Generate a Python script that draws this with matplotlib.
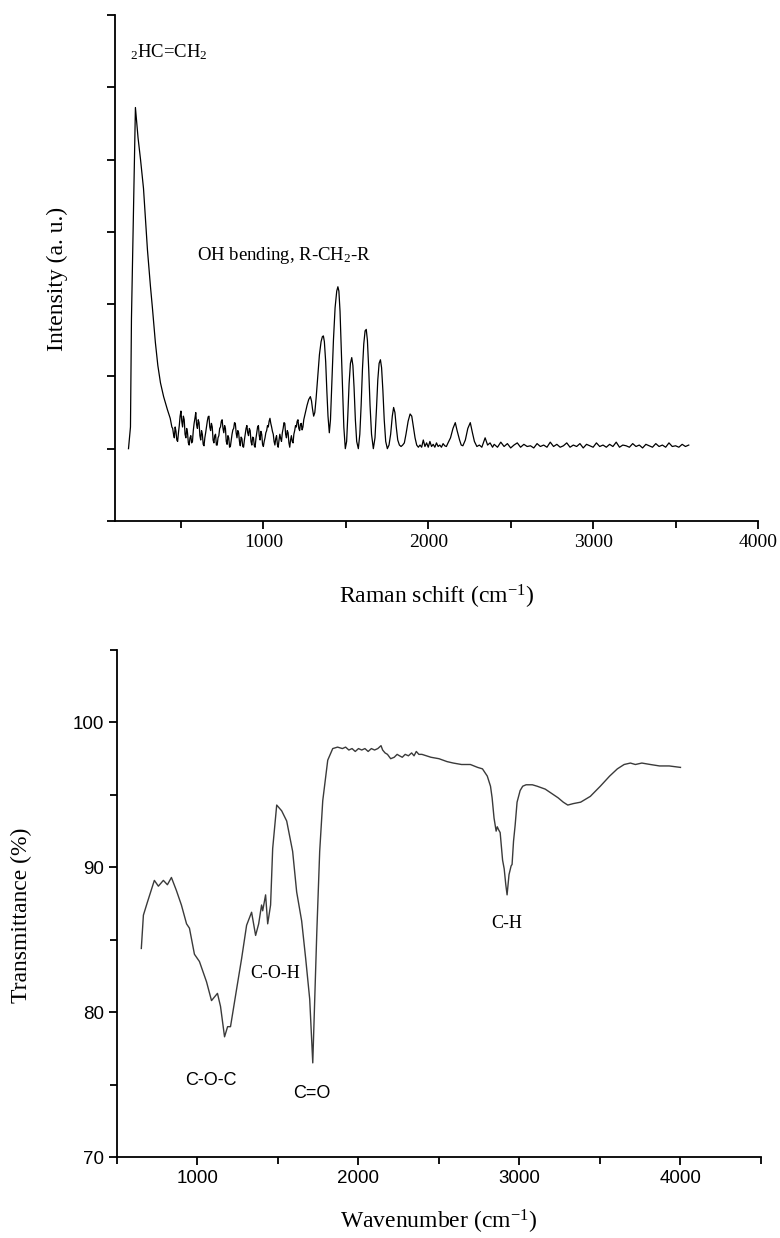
import numpy as np
import matplotlib
matplotlib.use("Agg")
import matplotlib.pyplot as plt
from matplotlib.ticker import MultipleLocator, NullFormatter

plt.rcParams['font.family'] = ['Liberation Serif', 'DejaVu Serif']
plt.rcParams['mathtext.fontset'] = 'stix'
plt.rcParams['mathtext.default'] = 'regular'

# ---- Raman spectrum (top panel) ----
# main band near 224 cm-1 and its tail
raman_peak_w = [182, 194, 200, 224, 240, 255, 273, 297, 315, 327, 345, 360, 376, 395, 418, 435, 445]
raman_peak_i = [0.0, 0.3, 1.8, 4.72, 4.3, 4.0, 3.6, 2.75, 2.25, 1.95, 1.47, 1.15, 0.91, 0.72, 0.54, 0.42, 0.3]

# noisy baseline 450-1250 cm-1 (5 cm-1 steps)
raman_noise1_start, raman_noise1_step = 450, 5
raman_noise1_i = [0.28, 0.20, 0.15, 0.30, 0.24, 0.12, 0.10, 0.22, 0.32, 0.45,
                  0.52, 0.38, 0.30, 0.45, 0.40, 0.20, 0.15, 0.28, 0.22, 0.08,
                  0.05, 0.15, 0.18, 0.08, 0.10, 0.25, 0.35, 0.42, 0.50, 0.33,
                  0.28, 0.40, 0.36, 0.18, 0.12, 0.25, 0.20, 0.06, 0.04, 0.15,
                  0.22, 0.30, 0.38, 0.44, 0.45, 0.30, 0.25, 0.35, 0.30, 0.12,
                  0.08, 0.18, 0.20, 0.05, 0.05, 0.15, 0.18, 0.28, 0.30, 0.38,
                  0.40, 0.28, 0.22, 0.32, 0.28, 0.10, 0.06, 0.18, 0.15, 0.02,
                  0.03, 0.12, 0.20, 0.26, 0.28, 0.36, 0.35, 0.22, 0.15, 0.25,
                  0.22, 0.10, 0.04, 0.16, 0.14, 0.03, 0.02, 0.12, 0.20, 0.28,
                  0.32, 0.22, 0.18, 0.28, 0.25, 0.10, 0.05, 0.16, 0.15, 0.04,
                  0.02, 0.14, 0.22, 0.30, 0.32, 0.18, 0.12, 0.24, 0.20, 0.06,
                  0.03, 0.10, 0.15, 0.22, 0.25, 0.32, 0.30, 0.38, 0.42, 0.35,
                  0.30, 0.24, 0.20, 0.10, 0.05, 0.14, 0.18, 0.06, 0.02, 0.12,
                  0.20, 0.14, 0.10, 0.22, 0.28, 0.36, 0.35, 0.20, 0.15, 0.25,
                  0.22, 0.08, 0.02, 0.12, 0.18, 0.10, 0.08, 0.20, 0.25, 0.32,
                  0.30, 0.38, 0.40, 0.28, 0.25, 0.34, 0.35, 0.26, 0.30, 0.40,
                  0.45]

# OH bending / CH2 band series
raman_band_w = [1255, 1265, 1275, 1285, 1292, 1298, 1305, 1312, 1320, 1330, 1340, 1350, 1358,
                1364, 1370, 1378, 1385, 1392, 1400, 1407, 1415, 1425, 1435, 1445, 1452,
                1458, 1465, 1472, 1480, 1488, 1497, 1505, 1512, 1520, 1528, 1536, 1543,
                1550, 1558, 1566, 1576, 1585, 1593, 1601, 1609, 1617, 1624, 1631, 1639,
                1647, 1656, 1667, 1677, 1686, 1694, 1702, 1710, 1717, 1725, 1733, 1742,
                1752, 1762, 1772, 1782, 1790, 1798, 1806, 1815, 1825, 1835, 1845, 1855,
                1865, 1878, 1890, 1900, 1910, 1920, 1930, 1940,
                1950, 1960, 1970, 1980, 1990, 2000, 2010, 2020, 2030, 2040, 2050, 2060,
                2070, 2080, 2090, 2100, 2110, 2120, 2135, 2150, 2164, 2175, 2190, 2200,
                2210, 2225, 2240, 2255, 2268, 2280, 2295, 2310, 2325, 2345, 2360, 2375, 2390]
raman_band_i = [0.50, 0.60, 0.68, 0.72, 0.66, 0.55, 0.45, 0.50, 0.70, 1.00, 1.30, 1.48, 1.55,
                1.56, 1.48, 1.20, 0.80, 0.45, 0.22, 0.40, 0.90, 1.50, 1.95, 2.18, 2.24,
                2.18, 1.90, 1.40, 0.80, 0.30, 0.00, 0.10, 0.45, 0.90, 1.18, 1.26, 1.15,
                0.85, 0.40, 0.10, 0.00, 0.20, 0.60, 1.10, 1.45, 1.63, 1.65, 1.50, 1.10,
                0.60, 0.20, 0.00, 0.15, 0.55, 0.95, 1.18, 1.23, 1.12, 0.80, 0.40, 0.10,
                0.00, 0.05, 0.20, 0.45, 0.57, 0.50, 0.30, 0.12, 0.05, 0.03, 0.05, 0.08,
                0.20, 0.38, 0.48, 0.45, 0.30, 0.15, 0.05, 0.02,
                0.05, 0.02, 0.12, 0.03, 0.08, 0.02, 0.10, 0.03, 0.06, 0.02, 0.08, 0.03,
                0.05, 0.02, 0.07, 0.04, 0.03, 0.08, 0.15, 0.28, 0.36, 0.25, 0.12, 0.05,
                0.04, 0.12, 0.28, 0.36, 0.22, 0.10, 0.03, 0.05, 0.02, 0.15, 0.05, 0.08, 0.02]

# flat noisy tail 2400-3580 cm-1 (20 cm-1 steps)
raman_noise2_start, raman_noise2_step = 2400, 20
raman_noise2_i = [0.06, 0.02, 0.09, 0.03, 0.07, 0.01, 0.05, 0.08, 0.02, 0.06,
                  0.03, 0.04, 0.01, 0.07, 0.03, 0.05, 0.02, 0.09, 0.03, 0.06,
                  0.02, 0.04, 0.08, 0.02, 0.05, 0.03, 0.07, 0.01, 0.06, 0.04,
                  0.02, 0.08, 0.03, 0.05, 0.02, 0.06, 0.03, 0.09, 0.02, 0.05,
                  0.04, 0.02, 0.07, 0.03, 0.05, 0.01, 0.06, 0.04, 0.02, 0.07,
                  0.03, 0.05, 0.02, 0.08, 0.03, 0.04, 0.02, 0.06, 0.03, 0.05]

# ---- FTIR spectrum (bottom panel) ----
ir_w = [651, 664, 689, 732, 757, 788, 813, 838, 869, 900, 932, 950, 981, 1012, 1056, 1087,
        1124, 1143, 1168, 1187, 1205, 1243, 1274, 1305, 1336, 1361, 1380, 1398, 1405, 1423,
        1436, 1454, 1467, 1492, 1523, 1554, 1591, 1616, 1647, 1672, 1697, 1716, 1741, 1759,
        1778, 1809, 1840, 1870, 1900, 1920, 1940, 1960, 1980, 2000, 2020, 2040, 2060, 2080,
        2100, 2120, 2140, 2150, 2165, 2180, 2200, 2222, 2240, 2255, 2272, 2290, 2310, 2330,
        2345, 2359, 2375, 2394, 2450, 2500, 2550, 2589, 2640, 2695, 2740, 2770, 2800, 2820,
        2830, 2842, 2855, 2862, 2870, 2880, 2895, 2905, 2915, 2923, 2935, 2948, 2954, 2963,
        2973, 2985, 3004, 3020, 3041, 3080, 3110, 3160, 3200, 3240, 3272, 3300, 3334, 3380,
        3440, 3502, 3560, 3608, 3650, 3689, 3720, 3760, 3813, 3870, 3930, 4000]
ir_t = [84.4, 86.7, 87.6, 89.1, 88.7, 89.1, 88.8, 89.3, 88.4, 87.4, 86.1, 85.8, 84.0, 83.5, 82.1, 80.8,
        81.3, 80.4, 78.3, 79.0, 79.0, 81.6, 83.7, 86.0, 86.9, 85.3, 86.1, 87.4, 87.0, 88.1,
        86.1, 87.4, 91.3, 94.3, 93.9, 93.2, 91.1, 88.3, 86.3, 83.7, 80.9, 76.5, 85.5, 91.1,
        94.6, 97.4, 98.2, 98.3, 98.2, 98.3, 98.1, 98.2, 98.0, 98.2, 98.1, 98.2, 98.0, 98.2,
        98.1, 98.2, 98.4, 98.1, 97.9, 97.8, 97.5, 97.6, 97.8, 97.7, 97.6, 97.8, 97.7, 97.9,
        97.7, 98.0, 97.8, 97.8, 97.6, 97.5, 97.3, 97.2, 97.1, 97.1, 96.9, 96.8, 96.3, 95.6,
        94.8, 93.4, 92.5, 92.8, 92.6, 92.4, 90.5, 89.9, 88.8, 88.1, 89.5, 90.1, 90.2, 91.8,
        92.9, 94.5, 95.3, 95.6, 95.7, 95.7, 95.6, 95.4, 95.1, 94.8, 94.5, 94.3, 94.4, 94.5,
        94.9, 95.6, 96.3, 96.8, 97.1, 97.2, 97.1, 97.2, 97.1, 97.0, 97.0, 96.9]

ir_labels = ["C-O-C", "C-O-H", "C=O", "C-H"]
ir_label_w = [1080, 1485, 1710, 2923]
ir_label_t = [75.3, 82.7, 74.4, 86.1]

# assemble the Raman trace
w1 = raman_noise1_start + raman_noise1_step * np.arange(len(raman_noise1_i))
w2 = raman_noise2_start + raman_noise2_step * np.arange(len(raman_noise2_i))
raman_w = np.concatenate([raman_peak_w, w1, raman_band_w, w2])
raman_i = np.concatenate([raman_peak_i, raman_noise1_i, raman_band_i, raman_noise2_i])

fig = plt.figure(figsize=(7.8, 12.38), dpi=100)
ax1 = fig.add_axes([0.1474, 0.5792, 0.8244, 0.4087])
ax2 = fig.add_axes([0.15, 0.0654, 0.8256, 0.4095])

for ax in (ax1, ax2):
    ax.spines['top'].set_visible(False)
    ax.spines['right'].set_visible(False)
    ax.spines['left'].set_linewidth(1.3)
    ax.spines['bottom'].set_linewidth(1.3)
    ax.tick_params(which='major', direction='out', length=6, width=1.3)
    ax.tick_params(which='minor', direction='out', length=5, width=1.3)

# top: Raman
ax1.plot(raman_w, raman_i, color='black', lw=0.9)
ax1.set_xlim(100, 4000)
ax1.set_ylim(-1, 6)
ax1.xaxis.set_major_locator(MultipleLocator(1000))
ax1.xaxis.set_minor_locator(MultipleLocator(500))
ax1.yaxis.set_major_locator(MultipleLocator(1))
ax1.yaxis.set_major_formatter(NullFormatter())
ax1.set_xticks([1000, 2000, 3000, 4000])
ax1.tick_params(axis='x', labelsize=14)
ax1.set_xlabel(r"Raman schift (cm$^{-1}$)", fontsize=17)
ax1.set_ylabel("Intensity (a. u.)", fontsize=17)
ax1.xaxis.set_label_coords(0.5, -0.15)
ax1.xaxis.label.set_va('center')
ax1.yaxis.set_label_coords(-0.09, 0.478)
ax1.yaxis.label.set_va('center')
ax1.text(194, 5.48, r"$_2$HC=CH$_2$", fontsize=13.5, ha='left', va='center')
ax1.text(600, 2.67, r"OH bending, R-CH$_2$-R", fontsize=13.5, ha='left', va='center')

# bottom: FTIR
ax2.plot(ir_w, ir_t, color='#3a3a3a', lw=1.0)
ax2.set_xlim(500, 4500)
ax2.set_ylim(70, 105)
ax2.xaxis.set_major_locator(MultipleLocator(1000))
ax2.xaxis.set_minor_locator(MultipleLocator(500))
ax2.yaxis.set_major_locator(MultipleLocator(10))
ax2.yaxis.set_minor_locator(MultipleLocator(5))
for lab in ax2.get_xticklabels() + ax2.get_yticklabels():
    lab.set_family(['Liberation Sans', 'DejaVu Sans'])
    lab.set_fontsize(13.5)
ax2.set_xlabel(r"Wavenumber (cm$^{-1}$)", fontsize=17)
ax2.set_ylabel("Transmittance (%)", fontsize=17)
ax2.xaxis.set_label_coords(0.5, -0.128)
ax2.xaxis.label.set_va('center')
ax2.yaxis.set_label_coords(-0.148, 0.477)
ax2.yaxis.label.set_va('center')
for name, w, t in zip(ir_labels, ir_label_w, ir_label_t):
    fam = ['Liberation Sans', 'DejaVu Sans'] if name in ("C-O-C", "C=O") else ['Liberation Serif', 'DejaVu Serif']
    ax2.text(w, t, name, fontsize=13, ha='center', va='center', family=fam)

fig.savefig("out.png", dpi=100)
